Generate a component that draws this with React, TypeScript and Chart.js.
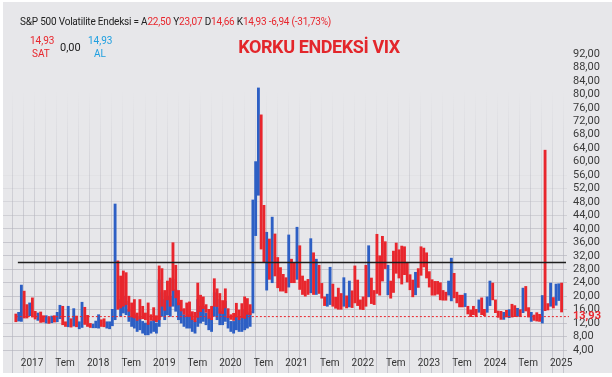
import { useEffect, useRef } from "react";
import { Chart, registerables } from "chart.js";
Chart.register(...registerables);

// ---------------- DATA ----------------
// x-axis labels (every 6 months)
const xLabels = ["2017","Tem","2018","Tem","2019","Tem","2020","Tem","2021","Tem","2022","Tem","2023","Tem","2024","Tem","2025"];
// y-axis tick values
const yTicks = [4,8,12,16,20,24,28,32,36,40,44,48,52,56,60,64,68,72,76,80,84,88,92];
// half-month periods, first one = first half of Aug 2016 (months since Jan 2016)
const firstPeriodMonth = 7.25;
const periodStep = 0.5;
// red bars (low/high)
const redLow = [
  12.4,null,null,13.5,13.5,null,13.8,13.2,null,12.2,
  12.3,null,11.9,null,12.3,null,null,11.5,11.0,null,
  10.8,null,10.9,null,null,11.6,11.0,10.7,null,null,
  null,11.0,10.9,null,null,null,null,16.1,16.5,17.0,
  17.5,15.5,13.8,13.5,12.8,13.2,13.3,13.0,11.6,12.8,
  12.8,12.4,13.0,17.0,15.8,18.9,17.0,21.7,19.5,17.4,
  15.6,14.6,14.0,14.0,13.0,12.4,13.7,15.4,16.3,15.2,
  13.4,13.0,17.0,16.9,14.9,14.8,16.5,13.6,13.1,12.8,
  13.8,13.0,13.6,13.4,14.6,14.5,null,null,null,34.0,
  30.0,null,25.0,null,26.0,22.5,21.5,21.5,21.0,null,
  24.0,24.0,null,22.0,20.5,20.0,20.5,null,20.5,null,
  20.8,19.4,17.2,null,null,17.0,16.4,16.1,16.1,null,
  16.5,null,16.6,18.0,17.2,16.1,16.0,17.0,null,17.8,
  17.5,20.8,20.3,24.5,28.2,null,19.4,21.1,26.8,25.4,
  23.6,26.4,24.2,21.9,19.8,null,22.6,26.2,28.7,25.4,
  22.7,20.3,20.3,20.6,18.9,18.8,18.8,null,null,19.5,
  18.0,16.8,16.8,null,14.7,13.9,14.5,13.9,null,14.5,
  14.2,null,null,18.9,15.1,13.7,13.1,null,13.8,null,
  13.8,13.9,null,13.9,null,15.6,13.8,null,12.8,12.6,
  12.5,null,15.7,15.9,null,16.5,null,null,15.3
];
const redHigh = [
  14.7,null,null,21.5,17.5,null,19.5,15.5,null,15.3,
  14.2,null,13.7,null,14.2,null,null,17.0,12.4,null,
  13.3,null,14.1,null,null,16.7,14.3,11.9,null,null,
  null,13.0,13.3,null,null,null,null,30.5,26.0,27.5,
  27.0,20.0,18.0,19.0,15.0,19.0,17.0,15.0,18.0,14.5,
  16.6,14.2,29.0,28.2,21.7,24.5,25.4,35.9,29.2,21.7,
  18.8,16.3,18.0,18.3,15.4,15.2,23.9,20.3,19.8,17.5,
  16.1,17.0,25.2,22.2,20.8,18.7,22.2,16.3,14.5,14.9,
  17.9,15.9,17.8,19.8,19.3,17.5,null,null,null,73.9,
  47.0,null,37.0,null,38.5,31.5,28.5,26.5,25.5,null,
  31.0,30.0,null,35.0,26.0,24.5,25.0,null,32.9,null,
  29.2,23.8,19.8,null,null,23.6,19.7,22.4,20.8,null,
  20.1,null,21.6,29.0,24.8,18.9,19.8,29.2,null,25.4,
  21.7,38.4,32.0,37.8,36.2,null,24.5,33.4,35.8,33.8,
  34.9,34.7,30.1,26.4,24.8,null,28.2,34.7,34.3,32.9,
  27.3,24.9,24.4,24.4,24.0,21.7,21.2,null,null,26.8,
  21.2,20.3,20.3,null,17.0,15.9,17.0,16.1,null,19.5,
  16.1,null,null,23.9,18.9,15.6,15.5,null,15.8,null,
  17.6,17.2,null,16.0,null,22.9,16.6,null,14.4,15.1,
  14.6,null,63.4,17.8,null,19.6,null,null,23.9
];
// blue bars (low/high)
const blueLow = [
  null,12.6,12.5,null,null,14.2,null,null,12.8,null,
  null,12.0,null,12.1,null,12.4,13.3,null,null,10.9,
  null,11.1,null,10.3,10.7,null,null,null,10.6,10.6,
  10.5,null,null,10.5,10.3,11.2,13.0,null,14.0,15.0,
  14.5,12.5,11.0,10.5,9.5,10.0,9.0,8.5,8.5,9.0,
  9.5,9.0,11.0,14.0,13.0,14.5,14.0,17.0,15.5,13.0,
  12.0,11.0,10.5,10.5,9.5,9.0,11.0,12.0,12.5,11.5,
  10.0,9.5,14.0,13.0,11.5,11.5,12.5,10.5,9.5,9.0,
  10.0,9.5,9.5,10.0,10.5,11.0,15.0,38.0,50.0,null,
  null,21.8,null,24.0,null,null,null,null,null,22.7,
  null,null,25.0,null,null,null,null,21.0,null,20.5,
  null,null,null,17.0,17.5,null,null,null,null,17.0,
  null,16.8,null,null,null,null,null,null,19.8,null,
  null,null,null,null,null,20.4,null,null,null,null,
  null,null,null,null,null,20.4,null,null,null,null,
  null,null,null,null,null,null,null,20.3,18.6,null,
  null,null,null,16.9,null,null,null,null,15.2,null,
  null,15.2,17.2,null,null,null,null,13.1,null,13.6,
  null,null,14.0,null,15.1,null,null,12.5,null,null,
  null,12.0,null,null,17.0,null,17.3,18.7,null
];
const blueHigh = [
  null,15.2,23.3,null,null,18.0,null,null,15.0,null,
  null,14.2,null,14.1,null,15.2,17.3,null,null,17.0,
  null,16.3,null,12.4,18.2,null,null,null,11.7,12.6,
  14.5,null,null,12.4,12.4,16.1,47.4,null,19.0,20.0,
  18.5,16.0,14.0,14.5,13.0,14.0,12.5,12.0,12.0,12.5,
  13.0,12.0,24.8,21.0,19.0,20.0,20.0,25.0,22.0,18.0,
  16.0,14.5,14.0,14.5,13.0,12.5,19.0,17.0,17.0,15.0,
  13.5,13.5,21.0,19.0,16.5,15.5,18.5,14.0,12.5,12.5,
  14.0,13.0,14.0,16.0,15.0,15.5,48.6,60.0,81.9,null,
  null,39.0,null,43.5,null,null,null,null,null,38.2,
  null,null,40.5,null,null,null,null,37.1,null,31.0,
  null,null,null,20.6,28.6,null,null,null,null,25.5,
  null,24.5,null,null,null,null,null,null,35.0,null,
  null,null,null,null,null,29.2,null,null,null,null,
  null,null,null,null,null,27.1,null,null,null,null,
  null,null,null,null,null,null,null,24.5,31.3,null,
  null,null,null,20.8,null,null,null,null,18.9,null,
  null,19.8,24.5,null,null,null,null,15.2,null,16.0,
  null,null,16.4,null,22.4,null,null,15.2,null,null,
  null,20.2,null,null,23.9,null,23.6,23.7,null
];
const thresholdLevel = 30;
const lastLevel = 13.93;
const lastLevelLabel = "13,93";
// header quote
const quoteName = "S&P 500 Volatilite Endeksi =";
const quoteOpen = "22,50";
const quoteHigh = "23,07";
const quoteLow = "14,66";
const quoteClose = "14,93";
const quoteChange = "-6,94 (-31,73%)";
const bidValue = "14,93";
const spreadValue = "0,00";
const askValue = "14,93";
const titleText = "KORKU ENDEKSİ VIX";

// ---------------- STYLE ----------------
const RED = "#e8262d";
const BLUE = "#2d5fc4";
const CYAN = "#1e9fe0";
const PANEL = "#e7e7ea";
const GRID_RGB = "178,178,188";
const FONT = "Roboto, 'Liberation Sans', sans-serif";

// axis ranges (months since Jan 2016 / value units)
const X_MIN = 4.916;
const X_MAX = 107.23;
const Y_MIN = 2.218;
const Y_MAX = 96.15;
const LABEL_ANCHOR = 10.18; // month position of first x label
const TICK_FROM = -5;
const TICK_TO = 97;

function buildBars(lows: (number | null)[], highs: (number | null)[]) {
  const out: { x: number; y: [number, number] }[] = [];
  lows.forEach((l, i) => {
    const h = highs[i];
    if (l == null || h == null) return;
    out.push({ x: firstPeriodMonth + i * periodStep, y: [l, h] });
  });
  return out;
}

let vGradCache: any = null;
function vGradient(chart: any) {
  if (vGradCache && vGradCache.chart === chart) return vGradCache.g;
  const g = chart.ctx.createLinearGradient(0, 90, 0, 235);
  g.addColorStop(0, `rgba(${GRID_RGB},0)`);
  g.addColorStop(1, `rgba(${GRID_RGB},0.62)`);
  vGradCache = { chart, g };
  return g;
}

function hGridColor(y: number) {
  const a = Math.max(0, Math.min(1, (y - 165) / 70));
  return `rgba(${GRID_RGB},${(a * 0.62).toFixed(3)})`;
}

const overlayPlugin = {
  id: "overlay",
  beforeDraw(chart: any) {
    const ctx = chart.ctx;
    ctx.save();
    ctx.fillStyle = "#ffffff";
    ctx.fillRect(0, 0, chart.width, chart.height);
    ctx.fillStyle = PANEL;
    ctx.fillRect(3, 2, 609, 371);
    ctx.restore();
  },
  afterDatasetsDraw(chart: any) {
    const { ctx, chartArea } = chart;
    const xs = chart.scales.x;
    const ys = chart.scales.y;
    const x0 = xs.getPixelForValue(firstPeriodMonth);
    ctx.save();
    const yT = ys.getPixelForValue(thresholdLevel);
    ctx.strokeStyle = "#1e1e1e";
    ctx.lineWidth = 1.6;
    ctx.beginPath();
    ctx.moveTo(x0 + 2, yT);
    ctx.lineTo(chartArea.right - 1, yT);
    ctx.stroke();
    const yL = ys.getPixelForValue(lastLevel);
    ctx.strokeStyle = RED;
    ctx.lineWidth = 1;
    ctx.setLineDash([2, 2]);
    ctx.beginPath();
    ctx.moveTo(x0, yL);
    ctx.lineTo(chartArea.right + 2, yL);
    ctx.stroke();
    ctx.setLineDash([]);
    ctx.fillStyle = RED;
    ctx.font = `bold 11px ${FONT}`;
    ctx.textBaseline = "middle";
    ctx.textAlign = "left";
    ctx.fillText(lastLevelLabel, chartArea.right + 6, yL);
    ctx.restore();
  },
};

export default function App() {
  const ref = useRef<HTMLCanvasElement | null>(null);
  useEffect(() => {
    if (!ref.current) return;
    const monthTicks: number[] = [];
    for (let k = TICK_FROM; k <= TICK_TO; k++) monthTicks.push(LABEL_ANCHOR + k);
    const chart = new Chart(ref.current, {
      type: "bar",
      data: {
        datasets: [
          {
            label: "red",
            data: buildBars(redLow, redHigh) as any,
            backgroundColor: RED,
            borderWidth: 0,
            barThickness: 2.2,
            grouped: false,
          } as any,
          {
            label: "blue",
            data: buildBars(blueLow, blueHigh) as any,
            backgroundColor: BLUE,
            borderWidth: 0,
            barThickness: 2.2,
            grouped: false,
          } as any,
        ],
      },
      options: {
        animation: false,
        responsive: false,
        devicePixelRatio: 1,
        layout: { padding: { left: 3, top: 40, right: 0, bottom: 4 } },
        plugins: { legend: { display: false }, tooltip: { enabled: false }, title: { display: false } },
        scales: {
          x: {
            type: "linear",
            min: X_MIN,
            max: X_MAX,
            offset: false,
            afterBuildTicks: (s: any) => {
              s.ticks = monthTicks.map((v) => ({ value: v }));
            },
            afterFit: (s: any) => {
              s.height = 17;
            },
            ticks: {
              autoSkip: false,
              maxRotation: 0,
              minRotation: 0,
              padding: -16,
              color: "#333333",
              font: { family: FONT, size: 10 },
              callback: (v: any) => {
                const k = Math.round(Number(v) - LABEL_ANCHOR);
                if (k < 0 || k % 6 !== 0) return "";
                return xLabels[k / 6] ?? "";
              },
            },
            grid: {
              drawTicks: true,
              tickLength: 17,
              lineWidth: 1,
              color: (c: any) => {
                const k = Math.round(Number(c.tick?.value) - LABEL_ANCHOR);
                if (k % 2 === 0) return "rgba(0,0,0,0)";
                return vGradient(c.chart);
              },
              tickColor: (c: any) => {
                const k = Math.round(Number(c.tick?.value) - LABEL_ANCHOR);
                if (k % 2 === 0) return "rgba(0,0,0,0)";
                return `rgba(${GRID_RGB},0.62)`;
              },
            },
            border: { display: false },
          } as any,
          y: {
            type: "linear",
            position: "right",
            min: Y_MIN,
            max: Y_MAX,
            afterBuildTicks: (s: any) => {
              s.ticks = yTicks.map((v) => ({ value: v }));
            },
            afterFit: (s: any) => {
              s.width = 45;
            },
            ticks: {
              autoSkip: false,
              padding: 6,
              color: "#3a3a3a",
              font: { family: FONT, size: 11 },
              callback: (v: any) => Number(v).toFixed(2).replace(".", ","),
            },
            grid: {
              drawTicks: false,
              lineWidth: 1,
              color: (c: any) => {
                const y = c.scale.getPixelForValue(c.tick?.value);
                return hGridColor(y);
              },
            },
            border: { display: false },
          } as any,
        },
      },
      plugins: [overlayPlugin],
    });
    return () => chart.destroy();
  }, []);

  const txt = { position: "absolute" as const, fontFamily: FONT, whiteSpace: "nowrap" as const, lineHeight: "12px" };
  return (
    <div style={{ position: "fixed", left: 0, top: 0, width: 612, height: 377, background: "#fff", overflow: "hidden" }}>
      <canvas ref={ref} width={612} height={377} style={{ position: "absolute", left: 0, top: 0, width: 612, height: 377 }} />
      <div style={{ ...txt, left: 20, top: 16, fontSize: 10, color: "#222", letterSpacing: "-0.2px" }}>
        {quoteName} A<span style={{ color: RED }}>{quoteOpen}</span> Y<span style={{ color: RED }}>{quoteHigh}</span> D
        <span style={{ color: RED }}>{quoteLow}</span> K<span style={{ color: RED }}>{quoteClose} {quoteChange}</span>
      </div>
      <div style={{ ...txt, left: 30, top: 35, fontSize: 10, color: RED }}>{bidValue}</div>
      <div style={{ ...txt, left: 32, top: 48, fontSize: 10, color: RED }}>SAT</div>
      <div style={{ ...txt, left: 60, top: 42, fontSize: 11, color: "#1a1a1a" }}>{spreadValue}</div>
      <div style={{ ...txt, left: 88, top: 35, fontSize: 10, color: CYAN }}>{askValue}</div>
      <div style={{ ...txt, left: 94, top: 48, fontSize: 10, color: CYAN }}>AL</div>
      <div style={{ ...txt, left: 0, width: 638, textAlign: "center", top: 37, fontSize: 18, lineHeight: "20px", fontWeight: 700, color: "#e3262b", letterSpacing: "-0.4px" }}>
        {titleText}
      </div>
    </div>
  );
}
